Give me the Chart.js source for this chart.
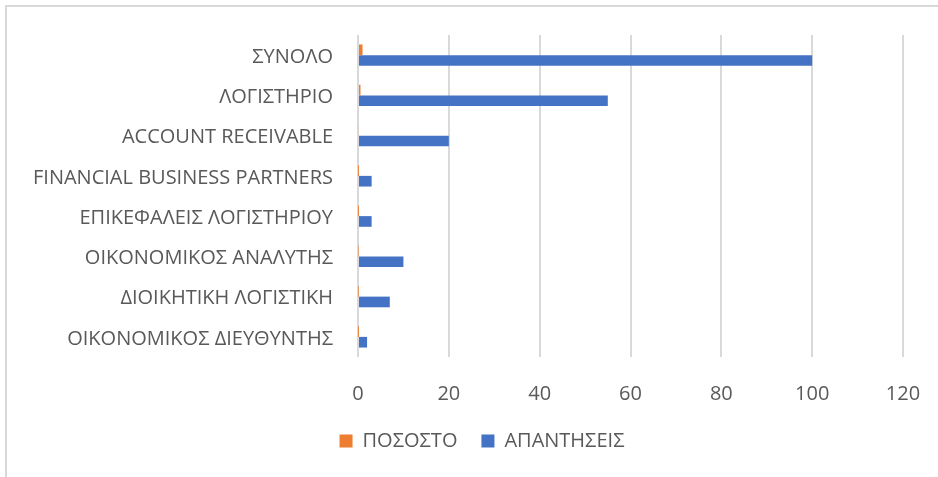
<!DOCTYPE html>
<html>
<head>
<meta charset="utf-8">
<script src="https://cdn.jsdelivr.net/npm/chart.js@4/dist/chart.umd.min.js"></script>
<style>
  html, body { margin: 0; padding: 0; background: #fff; }
  #wrap {
    position: absolute; left: 5px; top: 5px; width: 933px; height: 472px;
    border-top: 2px solid #d9d9d9; border-left: 2px solid #d9d9d9;
    box-sizing: border-box;
  }
  canvas { display: block; }
</style>
</head>
<body>
<div id="wrap"><canvas id="c"></canvas></div>
<script>
// categories, top to bottom
const categories = [
    'ΣΥΝΟΛΟ',
    'ΛΟΓΙΣΤΗΡΙΟ',
    'ACCOUNT RECEIVABLE',
    'FINANCIAL BUSINESS PARTNERS',
    'ΕΠΙΚΕΦΑΛΕΙΣ ΛΟΓΙΣΤΗΡΙΟΥ',
    'ΟΙΚΟΝΟΜΙΚΟΣ ΑΝΑΛΥΤΗΣ',
    'ΔΙΟΙΚΗΤΙΚΗ ΛΟΓΙΣΤΙΚΗ',
    'ΟΙΚΟΝΟΜΙΚΟΣ ΔΙΕΥΘΥΝΤΗΣ'
];
const posostoValues = [1, 0.55, 0.2, 0.03, 0.03, 0.1, 0.07, 0.02];
const apantiseisValues = [100, 55, 20, 3, 3, 10, 7, 2];
const xTicks = [0, 20, 40, 60, 80, 100, 120];

const font = "'Open Sans', sans-serif";
const textColor = '#595959';

const ctx = document.getElementById('c').getContext('2d');
new Chart(ctx, {
    type: 'bar',
    data: {
        labels: categories,
        datasets: [
            {
                label: 'ΠΟΣΟΣΤΟ',
                data: posostoValues,
                backgroundColor: '#ED7D31'
            },
            {
                label: 'ΑΠΑΝΤΗΣΕΙΣ',
                data: apantiseisValues,
                backgroundColor: '#4472C4'
            }
        ]
    },
    options: {
        indexAxis: 'y',
        responsive: true,
        maintainAspectRatio: false,
        animation: false,
        layout: { padding: { left: 19, right: 0, top: 28, bottom: 16 } },
        datasets: {
            bar: { categoryPercentage: 0.53, barPercentage: 1.0 }
        },
        scales: {
            x: {
                min: 0,
                max: 120,
                afterBuildTicks: axis => { axis.ticks = xTicks.map(v => ({ value: v })); },
                afterFit: axis => {
                    axis.height = 50;
                    axis.paddingLeft = 0;
                    axis.paddingRight = 35;
                },
                grid: { color: '#d9d9d9', lineWidth: 2, drawTicks: false },
                border: { display: false },
                ticks: { color: textColor, padding: 25, font: { family: font, size: 20 } }
            },
            y: {
                afterFit: axis => {
                    axis.width = 332;
                    axis.paddingTop = 0;
                    axis.paddingBottom = 0;
                },
                grid: { display: false, drawTicks: false },
                border: { display: false },
                ticks: { color: textColor, padding: 25, labelOffset: 2, font: { family: font, size: 20 } }
            }
        },
        plugins: {
            legend: {
                position: 'bottom',
                labels: {
                    color: textColor,
                    boxWidth: 13,
                    boxHeight: 13,
                    padding: 24,
                    font: { family: font, size: 20 }
                }
            },
            tooltip: { enabled: false }
        }
    }
});
</script>
</body>
</html>
